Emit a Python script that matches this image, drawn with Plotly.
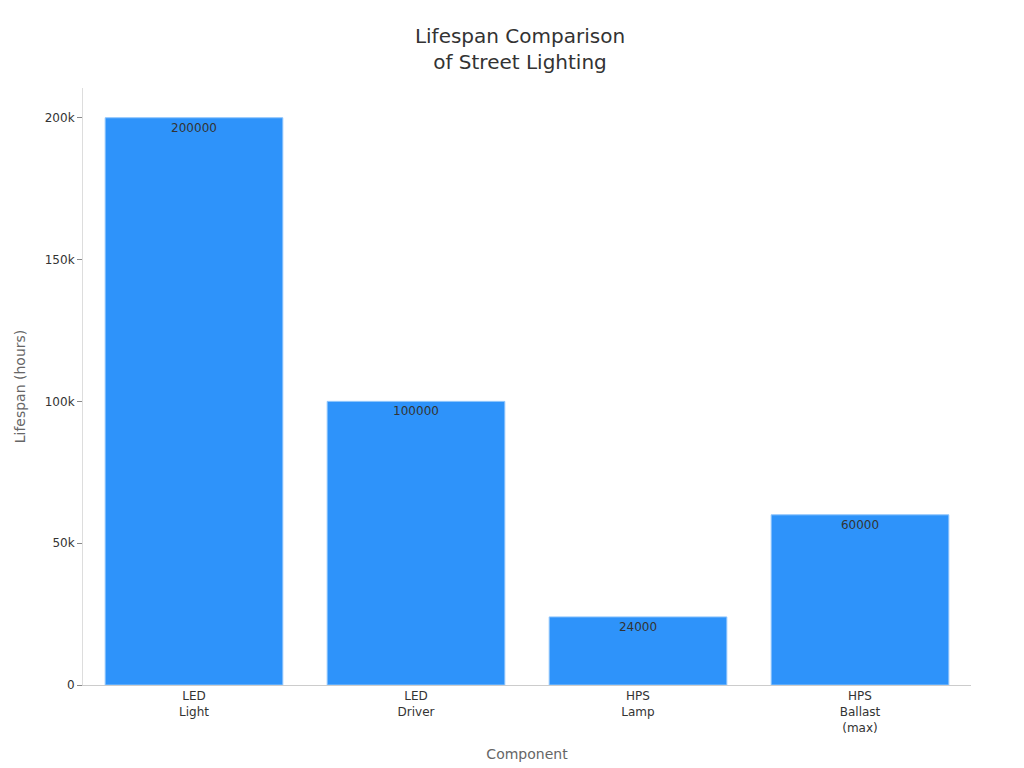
import plotly.graph_objects as go

components = ['LED<br>Light', 'LED<br>Driver', 'HPS<br>Lamp', 'HPS<br>Ballast<br>(max)']
lifespan = [200000, 100000, 24000, 60000]

fig = go.Figure(go.Bar(
    x=components, y=lifespan,
    text=[str(v) for v in lifespan],
    textposition='inside', insidetextanchor='end',
    textfont=dict(color='#333333', size=12),
    marker=dict(color='#2E93FA', line=dict(color='#8CC4FC', width=1)),
))
fig.update_layout(
    width=1024, height=768,
    title=dict(text='Lifespan Comparison<br>of Street Lighting', x=0.5, y=0.955,
               font=dict(size=20, color='#333333')),
    font=dict(family='DejaVu Sans', color='#333333'),
    plot_bgcolor='white', paper_bgcolor='white',
    margin=dict(l=75, r=61, t=80, b=91),
    bargap=0.2, showlegend=False,
)
fig.update_xaxes(title=dict(text='Component', font=dict(size=14, color='#666666')),
                 showline=True, linecolor='#cccccc', tickfont=dict(size=12))
fig.update_yaxes(title=dict(text='Lifespan (hours)', font=dict(size=14, color='#666666')),
                 range=[0, 210500], tickvals=[0, 50000, 100000, 150000, 200000],
                 ticktext=['0', '50k', '100k', '150k', '200k'],
                 showgrid=False, showline=True, linecolor='#dddddd',
                 ticks='outside', tickcolor='#888888', ticklen=5, tickfont=dict(size=12))
fig.write_html("out.html")
